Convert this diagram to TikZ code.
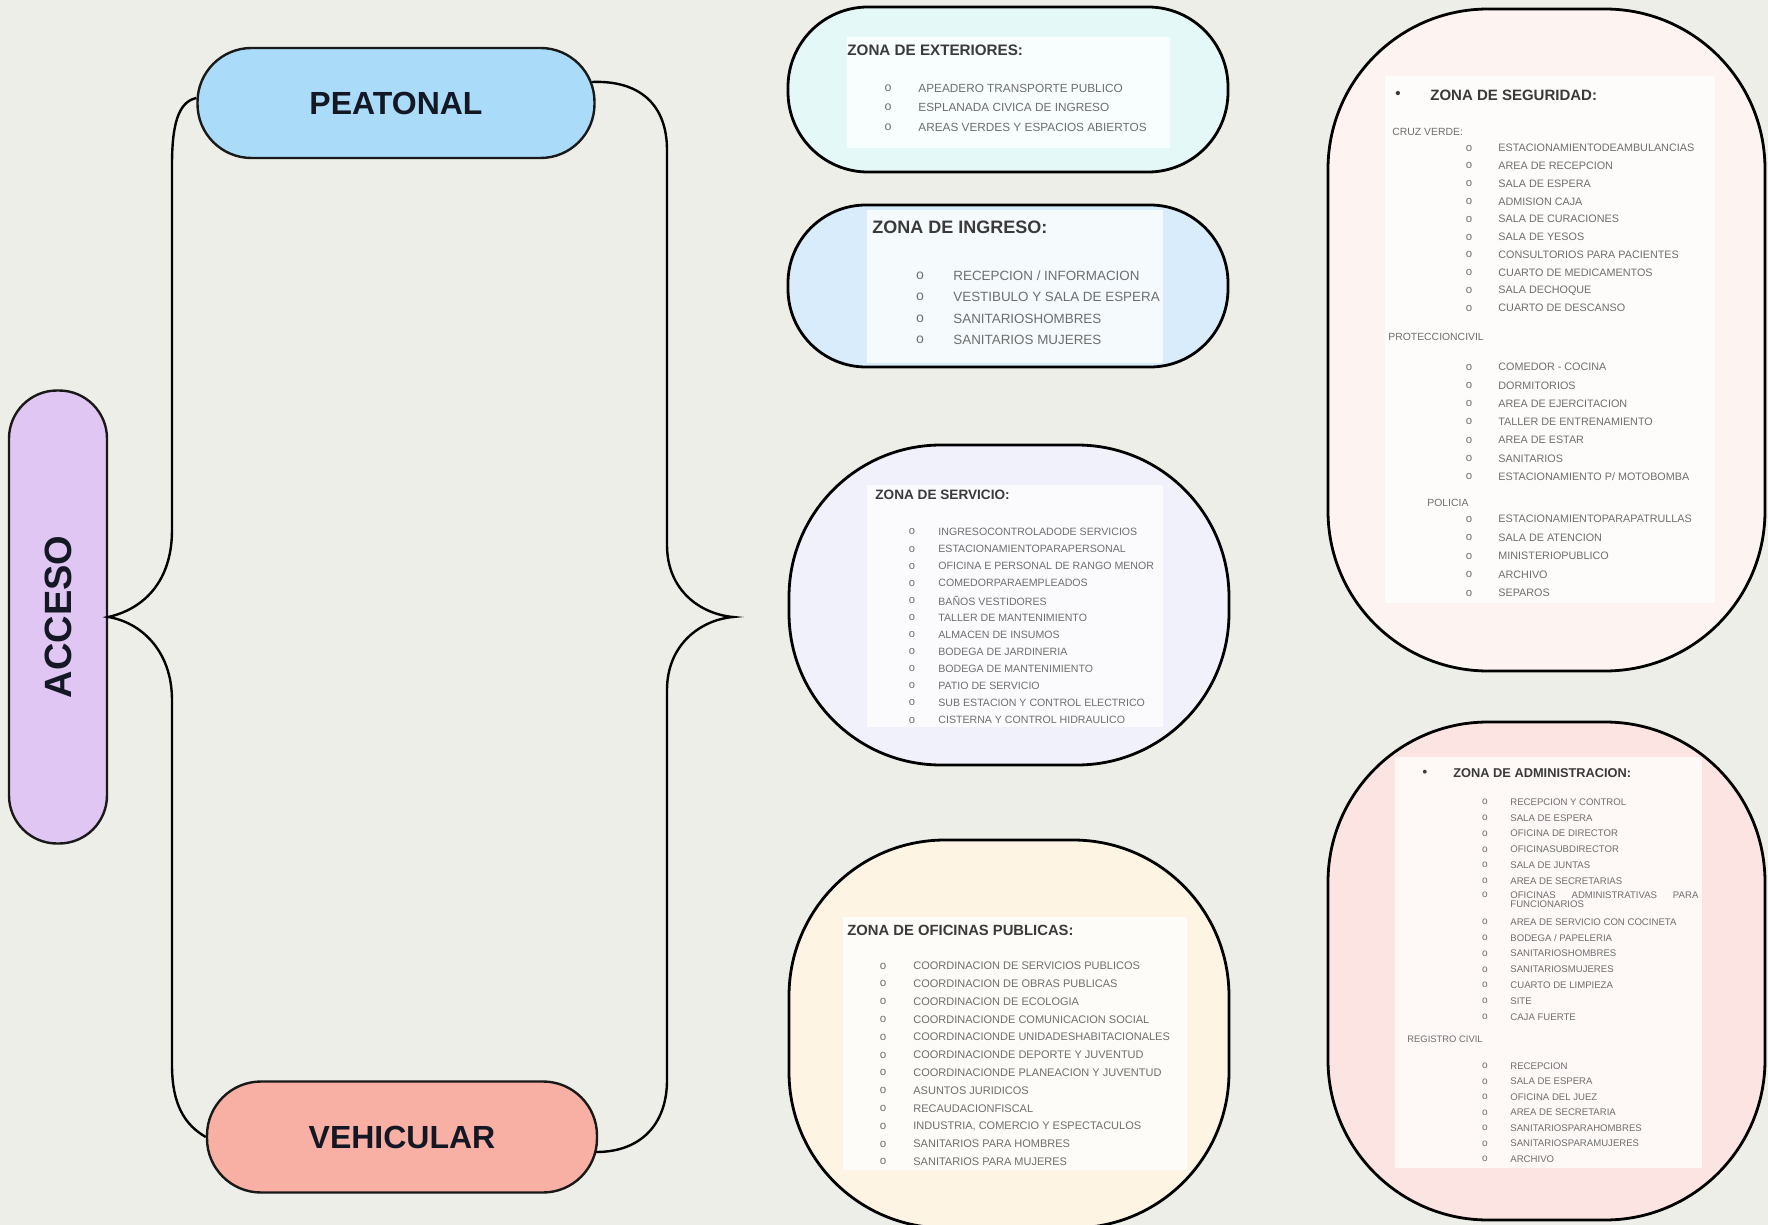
\documentclass[tikz,border=0pt]{standalone}
\usepackage{fontspec}
\setmainfont{Liberation Sans}
\newfontfamily\bulfont{Liberation Mono}
\newcommand\fsz[1]{\fontsize{#1}{#1}\selectfont}
\definecolor{bgc}{HTML}{EEEEE9}
\definecolor{accf}{HTML}{DFC6F3}
\definecolor{peaf}{HTML}{AADCFA}
\definecolor{vehf}{HTML}{F8B0A5}
\definecolor{extf}{HTML}{E4F8F8}
\definecolor{ingf}{HTML}{D9ECFB}
\definecolor{serf}{HTML}{F1F1FB}
\definecolor{ofif}{HTML}{FDF4E4}
\definecolor{segf}{HTML}{FDF4F1}
\definecolor{admf}{HTML}{FCE4E2}
\definecolor{itg}{HTML}{6E6E6E}
\definecolor{ttlc}{HTML}{3A3A3A}
\definecolor{lblc}{HTML}{141824}
\begin{document}
\begin{tikzpicture}[x=0.5pt,y=-0.5pt,
  pill/.style={draw=black!90, line width=1.2pt, text=lblc, inner sep=0},
  zone/.style={draw=black, line width=1.4pt, inner sep=0},
  inbox/.style={fill=white, fill opacity=0.75},
  ztitle/.style={anchor=west, inner sep=0, text=ttlc, font=\bfseries},
  itm/.style={anchor=west, inner sep=0, text=itg},
  bul/.style={inner sep=0, text=itg},
  sublbl/.style={anchor=west, inner sep=0, text=itg},
  br/.style={draw=black, line width=1.2pt}]
\useasboundingbox (0,0) rectangle (1768,1225);
\fill[bgc] (0,0) rectangle (1768,1225);

% main pills
\node[pill, fill=accf, minimum width=226.5pt, minimum height=49pt, rounded corners=24pt, rotate=90, font=\bfseries\fsz{19}] (acc) at (58,617) {ACCESO};
\node[pill, fill=peaf, minimum width=198.5pt, minimum height=55pt, rounded corners=27pt, font=\bfseries\fsz{16}] (pea) at (396,103) {PEATONAL};
\node[pill, fill=vehf, minimum width=195pt, minimum height=55.5pt, rounded corners=27pt, font=\bfseries\fsz{16}] (veh) at (402,1137) {VEHICULAR};

% brackets
\coordinate (tip) at (733,617);
\draw[br] ([yshift=2.5pt]pea.west) .. controls (178,102) and (172,125) .. (172,165) -- (172,530)
  .. controls (172,585) and (140,610) .. (acc.south)
  .. controls (140,622) and (172,650) .. (172,700) -- (172,1065)
  .. controls (172,1105) and (185,1125) .. (veh.west);
\draw[br] ([xshift=-2pt,yshift=10.5pt]pea.east) .. controls (640,80) and (667,105) .. (667,150) -- (667,545)
  .. controls (667,590) and (700,614) .. (tip)
  .. controls (700,620) and (667,645) .. (667,690) -- (667,1080)
  .. controls (667,1125) and (640,1152) .. ([xshift=-1pt,yshift=-7.5pt]veh.east);

% zone shapes
\node[zone, fill=extf, minimum width=220pt, minimum height=82.5pt, rounded corners=40pt] (ext) at (1008,89.5) {};
\node[zone, fill=ingf, minimum width=220pt, minimum height=81pt, rounded corners=39pt] (ing) at (1008,286) {};
\node[zone, fill=serf, minimum width=220pt, minimum height=160pt, rounded corners=76pt] (ser) at (1009,605) {};
\node[zone, fill=ofif, minimum width=220pt, minimum height=194pt, rounded corners=78pt] (ofi) at (1009,1034) {};
\node[zone, fill=segf, minimum width=218.5pt, minimum height=331pt, rounded corners=80pt] (seg) at (1546.5,340) {};
\node[zone, fill=admf, minimum width=218.5pt, minimum height=249pt, rounded corners=80pt] (adm) at (1546.5,971) {};

% inner white boxes
\fill[inbox] (847,37) rectangle (1170,148);
\fill[inbox] (867,210) rectangle (1163,363);
\fill[inbox] (867,485) rectangle (1163,727);
\fill[inbox] (843,917) rectangle (1187,1170);
\fill[inbox] (1385,76) rectangle (1715,603);
\fill[inbox] (1395,757) rectangle (1702,1168);

% ZONA DE EXTERIORES
\node[ztitle, font=\bfseries\fsz{7.6}] (extt) at (847,50) {ZONA DE EXTERIORES:};
\foreach \t [count=\i] in {APEADERO TRANSPORTE PUBLICO, ESPLANADA CIVICA DE INGRESO, AREAS VERDES Y ESPACIOS ABIERTOS} {
  \node[bul, font=\bulfont\fsz{6.2}] (extb\i) at (888,68.5+\i*19.5) {o};
  \node[itm, font=\fsz{5.9}] (exti\i) at (918,68.5+\i*19.5) {\t};
}

% ZONA DE INGRESO
\node[ztitle, font=\bfseries\fsz{9}] (ingt) at (872,227) {ZONA DE INGRESO:};
\foreach \t [count=\i] in {RECEPCION / INFORMACION, VESTIBULO Y SALA DE ESPERA, SANITARIOSHOMBRES, SANITARIOS MUJERES} {
  \node[bul, font=\bulfont\fsz{7}] (ingb\i) at (920,254.7+\i*21.3) {o};
  \node[itm, font=\fsz{6.7}] (ingi\i) at (953,254.7+\i*21.3) {\t};
}

% ZONA DE SERVICIO
\node[ztitle, font=\bfseries\fsz{6.8}] (sert) at (875,495) {ZONA DE SERVICIO:};
\foreach \t [count=\i] in {INGRESOCONTROLADODE SERVICIOS, ESTACIONAMIENTOPARAPERSONAL, OFICINA E PERSONAL DE RANGO MENOR, COMEDORPARAEMPLEADOS, BAÑOS VESTIDORES, TALLER DE MANTENIMIENTO, ALMACEN DE INSUMOS, BODEGA DE JARDINERIA, BODEGA DE MANTENIMIENTO, PATIO DE SERVICIO, SUB ESTACION Y CONTROL ELECTRICO, CISTERNA Y CONTROL HIDRAULICO} {
  \node[bul, font=\bulfont\fsz{5.6}] (serb\i) at (912,514.9+\i*17.1) {o};
  \node[itm, font=\fsz{5.3}] (seri\i) at (938,514.9+\i*17.1) {\t};
}

% ZONA DE OFICINAS PUBLICAS
\node[ztitle, font=\bfseries\fsz{7.4}] (ofit) at (847,930) {ZONA DE OFICINAS PUBLICAS:};
\foreach \t [count=\i] in {COORDINACION DE SERVICIOS PUBLICOS, COORDINACION DE OBRAS PUBLICAS, COORDINACION DE ECOLOGIA, COORDINACIONDE COMUNICACION SOCIAL, COORDINACIONDE UNIDADESHABITACIONALES, COORDINACIONDE DEPORTE Y JUVENTUD, COORDINACIONDE PLANEACION Y JUVENTUD, ASUNTOS JURIDICOS, RECAUDACIONFISCAL, {INDUSTRIA, COMERCIO Y ESPECTACULOS}, SANITARIOS PARA HOMBRES, SANITARIOS PARA MUJERES} {
  \node[bul, font=\bulfont\fsz{5.8}] (ofib\i) at (883,948.2+\i*17.8) {o};
  \node[itm, font=\fsz{5.5}] (ofii\i) at (913,948.2+\i*17.8) {\t};
}

% ZONA DE SEGURIDAD
\node[bul, text=ttlc, font=\bfseries\fsz{7.5}] (segd) at (1398,95) {\textbullet};
\node[ztitle, font=\bfseries\fsz{7.5}] (segt) at (1430,95) {ZONA DE SEGURIDAD:};
\node[sublbl, font=\fsz{5.2}] (segc) at (1392,132) {CRUZ VERDE:};
\foreach \t [count=\i] in {ESTACIONAMIENTODEAMBULANCIAS, AREA DE RECEPCION, SALA DE ESPERA, ADMISION CAJA, SALA DE CURACIONES, SALA DE YESOS, CONSULTORIOS PARA PACIENTES, CUARTO DE MEDICAMENTOS, SALA DECHOQUE, CUARTO DE DESCANSO} {
  \node[bul, font=\bulfont\fsz{5.7}] (segb\i) at (1469,130.2+\i*17.8) {o};
  \node[itm, font=\fsz{5.4}] (segi\i) at (1498,130.2+\i*17.8) {\t};
}
\node[sublbl, font=\fsz{5.2}] (segp) at (1388,337) {PROTECCIONCIVIL};
\foreach \t [count=\i] in {COMEDOR - COCINA, DORMITORIOS, AREA DE EJERCITACION, TALLER DE ENTRENAMIENTO, AREA DE ESTAR, SANITARIOS, ESTACIONAMIENTO P/ MOTOBOMBA} {
  \node[bul, font=\bulfont\fsz{5.7}] (segpb\i) at (1469,348.7+\i*18.3) {o};
  \node[itm, font=\fsz{5.4}] (segpi\i) at (1498,348.7+\i*18.3) {\t};
}
\node[sublbl, font=\fsz{5.2}] (segl) at (1427,503) {POLICIA};
\foreach \t [count=\i] in {ESTACIONAMIENTOPARAPATRULLAS, SALA DE ATENCION, MINISTERIOPUBLICO, ARCHIVO, SEPAROS} {
  \node[bul, font=\bulfont\fsz{5.7}] (seglb\i) at (1469,500.5+\i*18.5) {o};
  \node[itm, font=\fsz{5.4}] (segli\i) at (1498,500.5+\i*18.5) {\t};
}

% ZONA DE ADMINISTRACION
\node[bul, text=ttlc, font=\bfseries\fsz{6.6}] (admd) at (1425,773) {\textbullet};
\node[ztitle, font=\bfseries\fsz{6.4}] (admt) at (1453,773) {ZONA DE ADMINISTRACION:};
\foreach \t [count=\i] in {RECEPCION Y CONTROL, SALA DE ESPERA, OFICINA DE DIRECTOR, OFICINASUBDIRECTOR, SALA DE JUNTAS, AREA DE SECRETARIAS} {
  \node[bul, font=\bulfont\fsz{5.1}] (adb\i) at (1485,786.2+\i*15.8) {o};
  \node[itm, font=\fsz{4.8}] (adi\i) at (1510,786.2+\i*15.8) {\t};
}
\node[bul, font=\bulfont\fsz{5.1}] (adb7) at (1485,895) {o};
\node[itm, font=\fsz{4.8}] (adi7a) at (1510,895) {\makebox[94pt][s]{OFICINAS ADMINISTRATIVAS PARA}};
\node[itm, font=\fsz{4.8}] (adi7b) at (1510,904.5) {FUNCIONARIOS};
\foreach \t [count=\i] in {AREA DE SERVICIO CON COCINETA, BODEGA / PAPELERIA, SANITARIOSHOMBRES, SANITARIOSMUJERES, CUARTO DE LIMPIEZA, SITE, CAJA FUERTE} {
  \node[bul, font=\bulfont\fsz{5.1}] (adbb\i) at (1485,906.2+\i*15.8) {o};
  \node[itm, font=\fsz{4.8}] (adii\i) at (1510,906.2+\i*15.8) {\t};
}
\node[sublbl, font=\fsz{4.7}] (adr) at (1407,1039) {REGISTRO CIVIL};
\foreach \t [count=\i] in {RECEPCION, SALA DE ESPERA, OFICINA DEL JUEZ, AREA DE SECRETARIA, SANITARIOSPARAHOMBRES, SANITARIOSPARAMUJERES, ARCHIVO} {
  \node[bul, font=\bulfont\fsz{5.1}] (adrb\i) at (1485,1050.5+\i*15.5) {o};
  \node[itm, font=\fsz{4.8}] (adri\i) at (1510,1050.5+\i*15.5) {\t};
}
\end{tikzpicture}
\end{document}
